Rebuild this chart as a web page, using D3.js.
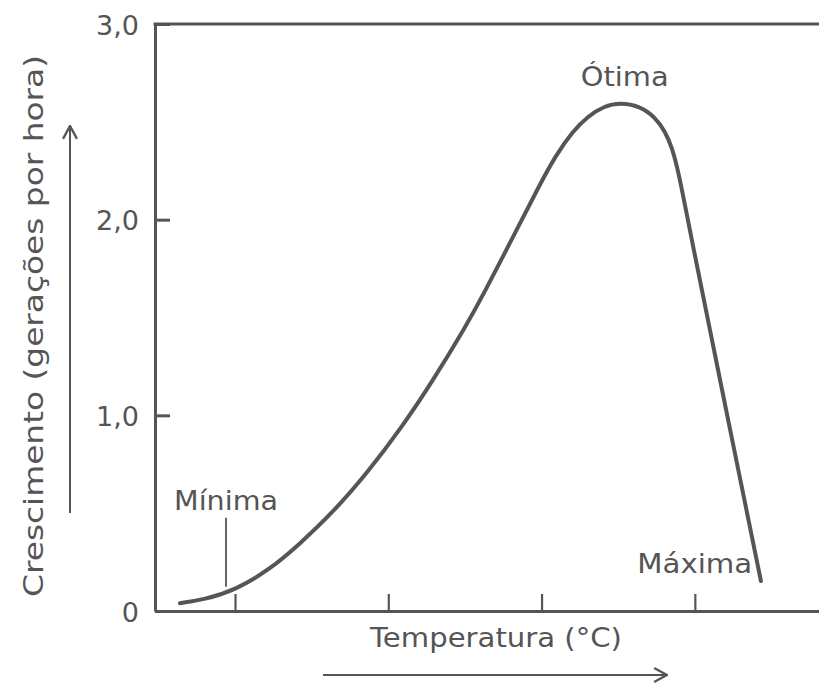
<!DOCTYPE html>
<html>
<head>
<meta charset="utf-8">
<script src="https://cdn.jsdelivr.net/npm/d3@7"></script>
<style>
  body { margin: 0; background: #fff; }
  text { font-family: "DejaVu Sans", "Noto Sans", sans-serif; fill: #555; }
</style>
</head>
<body>
<svg width="819" height="687"></svg>
<script>
// temperatura (em divisões do eixo x) e crescimento (gerações por hora)
var temperatura = [0.641, 0.798, 1.000, 1.228, 1.417, 1.639, 1.861, 2.083, 2.292, 2.507, 2.618, 2.840, 2.990, 3.094, 3.205, 3.303, 3.407, 3.511, 3.642, 3.740, 3.805, 3.851, 3.896, 3.942, 3.988, 4.099, 4.196, 4.294, 4.373, 4.431];
var crescimento = [0.040, 0.058, 0.106, 0.213, 0.339, 0.504, 0.704, 0.933, 1.178, 1.457, 1.613, 1.952, 2.182, 2.330, 2.453, 2.529, 2.580, 2.598, 2.580, 2.524, 2.453, 2.371, 2.233, 2.049, 1.865, 1.436, 1.058, 0.680, 0.378, 0.153];
var yTicks = [0, 1, 2, 3];
var yTickLabels = ["0", "1,0", "2,0", "3,0"];
var xTicks = [1, 2, 3, 4];
var marcos = ["Mínima", "Ótima", "Máxima"];
var marcosT = [1.0, 3.51, 4.44];

var svg = d3.select("svg"),
    margin = {top: 24, right: 0, bottom: 76, left: 155},
    width = +svg.attr("width") - margin.left - margin.right,
    height = +svg.attr("height") - margin.top - margin.bottom,
    g = svg.append("g").attr("transform", "translate(" + margin.left + "," + margin.top + ")");

var cinza = "#555";

var x = d3.scaleLinear()
    .domain([0.478, 4.81])
    .range([0, width]);

var y = d3.scaleLinear()
    .domain([0, 3])
    .range([height, 0]);

// eixo y
g.append("g")
    .attr("class", "axis axis--y")
    .call(d3.axisLeft(y)
      .tickValues(yTicks)
      .tickSize(-15)
      .tickSizeOuter(0)
      .tickPadding(16)
      .tickFormat(function(d, i) { return yTickLabels[i]; }));

// eixo x
g.append("g")
    .attr("class", "axis axis--x")
    .attr("transform", "translate(0," + height + ")")
    .call(d3.axisBottom(x)
      .tickValues(xTicks)
      .tickSize(-17)
      .tickSizeOuter(0)
      .tickFormat(""));

svg.selectAll(".axis path, .axis line")
    .attr("stroke", cinza)
    .attr("stroke-width", 3);
svg.selectAll(".axis--x line").attr("stroke-width", 2.2);
svg.selectAll(".axis--y text")
    .style("font-size", "27px")
    .attr("fill", cinza)
    .attr("dy", "0.37em");

// linha superior
g.append("line")
    .attr("x1", -1.5).attr("x2", width)
    .attr("y1", y(3)).attr("y2", y(3))
    .attr("stroke", cinza)
    .attr("stroke-width", 3);

// curva de crescimento
var dados = temperatura.map(function(t, i) { return {t: t, c: crescimento[i]}; });
var linha = d3.line()
    .x(function(d) { return x(d.t); })
    .y(function(d) { return y(d.c); })
    .curve(d3.curveBasis);

g.append("path")
    .datum(dados)
    .attr("fill", "none")
    .attr("stroke", cinza)
    .attr("stroke-width", 4)
    .attr("stroke-linecap", "round")
    .attr("d", linha);

// marca da mínima
g.append("line")
    .attr("x1", x(marcosT[0]) - 9).attr("x2", x(marcosT[0]) - 9)
    .attr("y1", y(0.476)).attr("y2", y(0.124))
    .attr("stroke", cinza)
    .attr("stroke-width", 1.8);

function rotulo(txt, px, py, ancora, largura) {
  return g.append("text")
      .attr("x", px)
      .attr("y", py)
      .attr("text-anchor", ancora)
      .attr("textLength", largura)
      .attr("lengthAdjust", "spacingAndGlyphs")
      .style("font-size", "26px")
      .text(txt);
}

rotulo(marcos[0], x(marcosT[0]) - 9, y(0.516), "middle", 104);
rotulo(marcos[1], x(marcosT[1]) + 5, y(2.685), "middle", 88);
rotulo(marcos[2], x(marcosT[2]) - 10, y(0.195), "end", 115);

// rótulos dos eixos
svg.append("text")
    .attr("transform", "translate(43," + 326 + ") rotate(-90)")
    .attr("text-anchor", "middle")
    .attr("textLength", 542)
    .attr("lengthAdjust", "spacingAndGlyphs")
    .style("font-size", "26px")
    .text("Crescimento (gerações por hora)");

svg.append("text")
    .attr("x", 496)
    .attr("y", 647)
    .attr("text-anchor", "middle")
    .attr("textLength", 252)
    .attr("lengthAdjust", "spacingAndGlyphs")
    .style("font-size", "26px")
    .text("Temperatura (°C)");

// setas
svg.append("defs").append("marker")
    .attr("id", "seta")
    .attr("viewBox", "0 0 16 16")
    .attr("refX", 15).attr("refY", 8)
    .attr("markerWidth", 16).attr("markerHeight", 16)
    .attr("markerUnits", "userSpaceOnUse")
    .attr("orient", "auto")
  .append("path")
    .attr("d", "M3,1.5 L15,8 L3,14.5")
    .attr("fill", "none")
    .attr("stroke", cinza)
    .attr("stroke-width", 2.4)
    .attr("stroke-linecap", "round");

svg.append("line")
    .attr("x1", 70).attr("x2", 70)
    .attr("y1", 513).attr("y2", 126)
    .attr("stroke", cinza)
    .attr("stroke-width", 2)
    .attr("marker-end", "url(#seta)");

svg.append("line")
    .attr("x1", 323).attr("x2", 667)
    .attr("y1", 675).attr("y2", 675)
    .attr("stroke", cinza)
    .attr("stroke-width", 2)
    .attr("marker-end", "url(#seta)");
</script>
</body>
</html>
